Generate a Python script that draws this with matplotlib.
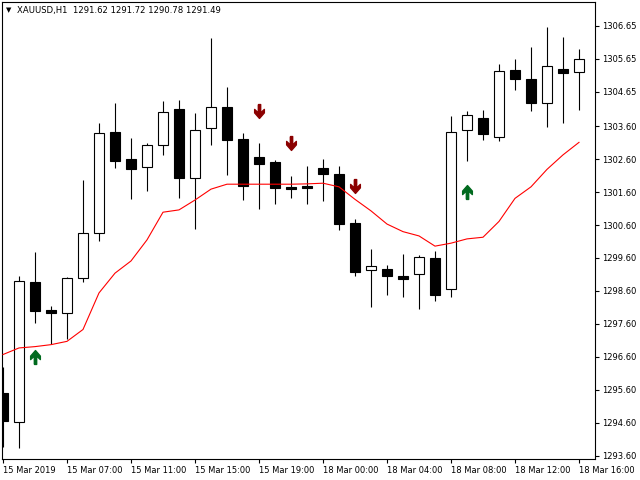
import numpy as np
import matplotlib
matplotlib.use("Agg")
import matplotlib.pyplot as plt
from matplotlib.path import Path

#data (XAUUSD H1)
opens  = [1295.51, 1294.61, 1298.87, 1298.02, 1297.92, 1298.98, 1300.35, 1303.42, 1302.60, 1302.35,
          1303.02, 1304.12, 1302.04, 1303.55, 1304.18, 1303.21, 1302.67, 1302.51, 1301.76, 1301.79,
          1302.32, 1302.15, 1300.66, 1299.23, 1299.27, 1299.05, 1299.11, 1299.60, 1298.65, 1303.48,
          1303.84, 1303.28, 1305.30, 1305.02, 1304.30, 1305.33, 1305.24]
highs  = [1296.30, 1299.05, 1299.78, 1298.14, 1299.02, 1301.97, 1303.69, 1304.30, 1303.23, 1303.10,
          1304.37, 1304.40, 1304.00, 1306.28, 1304.79, 1303.39, 1303.09, 1302.57, 1302.09, 1302.39,
          1302.60, 1302.39, 1300.78, 1299.87, 1299.39, 1299.72, 1299.68, 1299.81, 1303.90, 1304.06,
          1304.09, 1305.49, 1305.64, 1305.99, 1306.61, 1306.31, 1305.94]
lows   = [1293.87, 1293.84, 1297.62, 1296.99, 1297.15, 1298.88, 1300.13, 1302.34, 1301.38, 1301.64,
          1302.74, 1301.43, 1300.49, 1303.04, 1302.13, 1301.37, 1301.10, 1301.23, 1301.43, 1301.23,
          1301.34, 1300.45, 1299.06, 1298.10, 1298.49, 1298.41, 1298.06, 1298.30, 1298.41, 1302.55,
          1303.19, 1303.16, 1304.70, 1304.07, 1303.58, 1303.71, 1304.10]
closes = [1294.65, 1298.89, 1298.00, 1297.92, 1298.98, 1300.35, 1303.38, 1302.55, 1302.31, 1303.03,
          1304.02, 1302.04, 1303.48, 1304.17, 1303.19, 1301.79, 1302.46, 1301.73, 1301.70, 1301.73,
          1302.16, 1300.64, 1299.18, 1299.35, 1299.06, 1298.97, 1299.62, 1298.49, 1303.42, 1303.93,
          1303.37, 1305.27, 1305.04, 1304.31, 1305.42, 1305.22, 1305.63]
ma     = [1296.67, 1296.87, 1296.91, 1296.97, 1297.07, 1297.43, 1298.54, 1299.14, 1299.51, 1300.15,
          1300.99, 1301.06, 1301.36, 1301.69, 1301.84, 1301.84, 1301.84, 1301.84, 1301.84, 1301.85,
          1301.87, 1301.76, 1301.38, 1301.03, 1300.63, 1300.40, 1300.27, 1299.96, 1300.05, 1300.18,
          1300.23, 1300.71, 1301.41, 1301.76, 1302.29, 1302.73, 1303.11]

down_bars = [16, 18, 22]
down_prices = [1304.07, 1303.10, 1301.79]
up_bars = [2, 29]
up_prices = [1296.60, 1301.59]

time_ticks = [0, 4, 8, 12, 16, 20, 24, 28, 32, 36]
time_labels = ["15 Mar 2019", "15 Mar 07:00", "15 Mar 11:00", "15 Mar 15:00", "15 Mar 19:00",
               "18 Mar 00:00", "18 Mar 04:00", "18 Mar 08:00", "18 Mar 12:00", "18 Mar 16:00"]
price_labels = ["1306.65", "1305.65", "1304.65", "1303.60", "1302.60", "1301.60", "1300.60",
                "1299.60", "1298.60", "1297.60", "1296.60", "1295.60", "1294.60", "1293.60"]

plt.rcParams['font.family'] = 'DejaVu Sans'
fig = plt.figure(figsize=(6.4, 4.8), dpi=100)
ax = fig.add_axes([2/640, 20.7/480, 593/640, 457.3/480])

x = np.arange(len(opens))
o = np.array(opens)
c = np.array(closes)

#candles
ax.vlines(x, lows, highs, color="black", linewidth=0.8, zorder=1)
fill = ["black" if cc < oo else "white" for oo, cc in zip(o, c)]
ax.bar(x, np.abs(c - o), bottom=np.minimum(o, c), width=0.62, color=fill,
       edgecolor="black", linewidth=0.8, zorder=2)

#moving average
ax.plot(x, ma, color="red", linewidth=0.8, zorder=3)

#signal arrows
verts = [(-0.17, 1), (0.17, 1), (0.17, -0.2), (0.7, 0.3), (0.7, -0.2), (0, -1),
         (-0.7, -0.2), (-0.7, 0.3), (-0.17, -0.2), (-0.17, 1)]
down_arrow = Path(verts)
up_arrow = Path([(vx, -vy) for vx, vy in verts])
ax.plot(down_bars, down_prices, linestyle="none", marker=down_arrow, markersize=10,
        color="#8b0000", zorder=4)
ax.plot(up_bars, up_prices, linestyle="none", marker=up_arrow, markersize=10,
        color="#006a1e", zorder=4)

ax.set_xlim(-0.0625, 37)
ax.set_ylim(1293.49, 1307.37)

ax.set_xticks(time_ticks, time_labels)
for lab in ax.get_xticklabels():
    lab.set_ha("left")
ax.yaxis.tick_right()
ax.set_yticks([float(p) for p in price_labels], price_labels)
ax.tick_params(axis="both", labelsize=6, length=3, width=0.8, pad=2, colors="black")

for s in ax.spines.values():
    s.set_linewidth(0.8)

fig.text(9/640, 1 - 10.5/480, "\u25bc", fontsize=5, va="center", ha="center")
fig.text(17/640, 1 - 10.5/480, "XAUUSD,H1  1291.62 1291.72 1290.78 1291.49",
         fontsize=6.1, va="center", ha="left")

fig.savefig("out.png", dpi=100)
